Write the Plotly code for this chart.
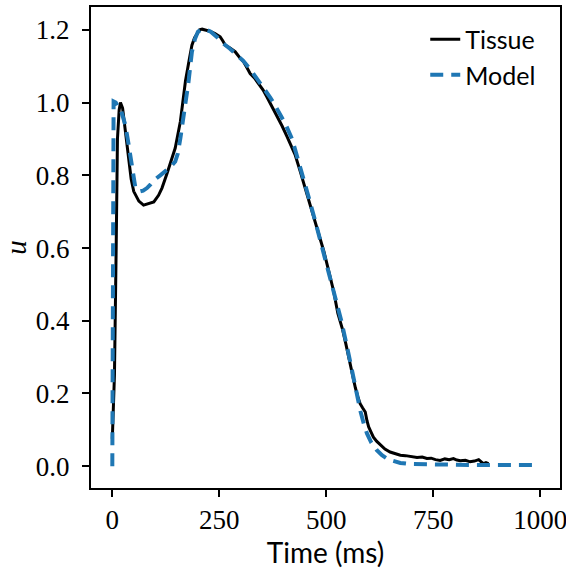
import plotly.graph_objects as go

# Tissue recording
tissue_t = [0, 5, 9, 12, 16, 19, 24, 30, 36, 44, 50, 56, 62, 73, 85, 97, 108, 116, 128, 138,
            147, 159, 165, 171, 180, 186, 192, 198, 204, 210, 219, 229, 240, 252, 258, 264,
            275, 287, 297, 307, 315, 322, 332, 342, 352, 361, 373, 385, 397, 408, 418, 427,
            439, 452, 465, 480, 494, 505, 517, 527, 537, 545, 552, 560, 568, 574, 579, 585,
            591, 595, 599, 604, 610, 618, 626, 637, 649, 661, 673, 685, 696, 704, 712, 724,
            735, 745, 755, 766, 777, 787, 797, 805, 813, 825, 836, 846, 856, 862, 867, 873, 879]
tissue_u = [0.075, 0.25, 0.6, 0.9, 0.98, 1.0, 0.985, 0.93, 0.86, 0.79, 0.756, 0.74, 0.729,
            0.718, 0.722, 0.727, 0.745, 0.765, 0.806, 0.84, 0.875, 0.948, 1.0, 1.06, 1.12,
            1.158, 1.178, 1.19, 1.2, 1.202, 1.2, 1.196, 1.19, 1.181, 1.17, 1.158, 1.15, 1.14,
            1.125, 1.112, 1.095, 1.08, 1.068, 1.053, 1.035, 1.016, 0.99, 0.962, 0.935, 0.907,
            0.882, 0.857, 0.811, 0.76, 0.71, 0.65, 0.592, 0.54, 0.482, 0.42, 0.38, 0.34, 0.30,
            0.255, 0.215, 0.19, 0.172, 0.16, 0.149, 0.125, 0.108, 0.095, 0.080, 0.068, 0.058,
            0.047, 0.039, 0.034, 0.030, 0.029, 0.027, 0.026, 0.024, 0.025, 0.021, 0.022, 0.018,
            0.016, 0.02, 0.018, 0.021, 0.017, 0.015, 0.016, 0.012, 0.014, 0.018, 0.012, 0.007,
            0.01, 0.007]

# Model output
model_t = [0, 2, 3, 8, 13, 19, 25, 30, 36, 42, 48, 54, 60, 65, 72, 81, 90, 100, 112, 124,
           136, 147, 153, 159, 165, 170, 178, 186, 193, 200, 209, 220, 230, 245, 259, 275,
           290, 306, 322, 338, 354, 369, 380, 392, 405, 420, 435, 445, 460, 475, 490, 505,
           520, 535, 550, 562, 572, 580, 588, 595, 605, 618, 630, 642, 655, 673, 695, 720,
           760, 800, 850, 900, 950, 996]
model_u = [0.0, 0.6, 1.003, 1.0, 0.99, 0.984, 0.96, 0.94, 0.90, 0.857, 0.81, 0.765, 0.758,
           0.756, 0.758, 0.765, 0.776, 0.789, 0.80, 0.811, 0.823, 0.838, 0.86, 0.902, 0.95,
           1.003, 1.057, 1.14, 1.175, 1.195, 1.202, 1.2, 1.195, 1.18, 1.163, 1.148, 1.133,
           1.115, 1.092, 1.066, 1.04, 1.014, 0.993, 0.97, 0.94, 0.90, 0.84, 0.80, 0.735,
           0.67, 0.605, 0.54, 0.47, 0.40, 0.32, 0.25, 0.19, 0.15, 0.115, 0.09, 0.065, 0.044,
           0.03, 0.021, 0.015, 0.009, 0.006, 0.005, 0.004, 0.004, 0.003, 0.003, 0.003, 0.003]

fig = go.Figure()
fig.add_trace(go.Scatter(x=tissue_t, y=tissue_u, mode='lines', name='Tissue',
                         line=dict(color='black', width=3)))
fig.add_trace(go.Scatter(x=model_t, y=model_u, mode='lines', name='Model',
                         line=dict(color='#1f77b4', width=4, dash='13px,8px')))

serif = 'Liberation Serif'
sans = 'Lato'
axis_style = dict(showline=True, linecolor='black', linewidth=2, mirror=True,
                  ticks='outside', ticklen=7, tickwidth=2, tickcolor='black',
                  showgrid=False, zeroline=False, ticklabeloverflow='allow',
                  automargin=False,
                  tickfont=dict(family=serif, size=27, color='black'))

fig.update_layout(
    width=566, height=571,
    margin=dict(l=91, r=6, t=7, b=83),
    plot_bgcolor='white', paper_bgcolor='white',
    xaxis=dict(range=[-49.8, 1046], tickvals=[0, 250, 500, 750, 1000],
               title=dict(text='Time (ms)', font=dict(family=sans, size=28, color='black'),
                          standoff=4),
               **axis_style),
    yaxis=dict(range=[-0.06, 1.263], tickvals=[0, 0.2, 0.4, 0.6, 0.8, 1.0, 1.2],
               tickformat='.1f', ticklabelstandoff=7,
               title=dict(text='<i>u</i>', font=dict(family=serif, size=29, color='black'),
                          standoff=4),
               **axis_style),
    legend=dict(x=0.96, y=0.98, xanchor='right', yanchor='top',
                bgcolor='rgba(0,0,0,0)', font=dict(family=sans, size=25, color='black'),
                tracegroupgap=0),
    showlegend=True,
)

# page body has a default margin; drop it so the figure fills the window
fig.write_html("out.html", config={'displayModeBar': False},
               post_script="document.body.style.margin='0px';")
